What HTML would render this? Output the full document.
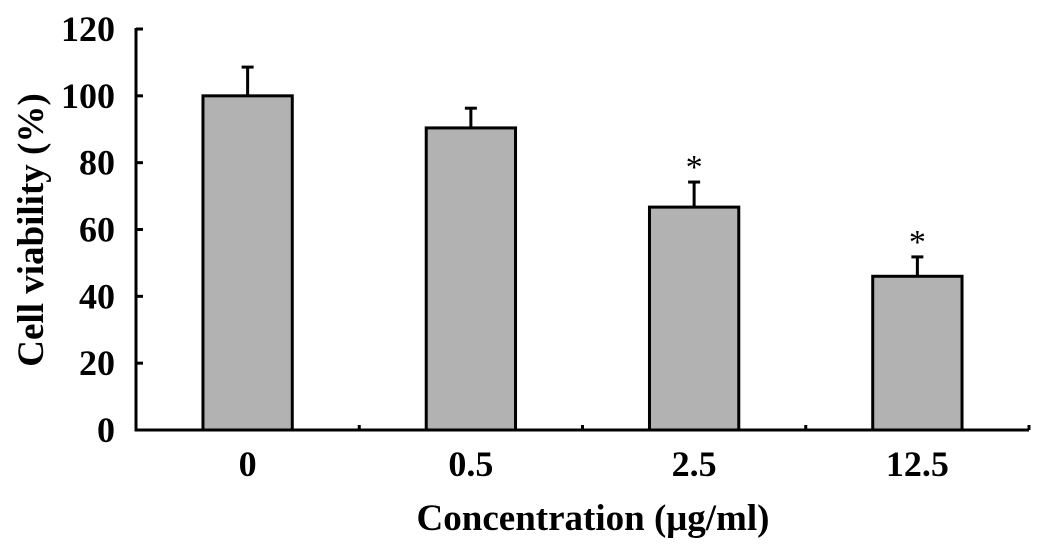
<!DOCTYPE html>
<html><head><meta charset="utf-8"><style>
html,body{margin:0;padding:0;background:#fff;width:1063px;height:559px;overflow:hidden}
text{font-family:"Liberation Serif",serif}
</style></head><body>
<svg id="chart" width="1063" height="559" viewBox="0 0 1063 559"></svg>
<script>
const categories = ["0","0.5","2.5","12.5"];
const values = [100, 90.4, 66.7, 46];
const errors = [8.6, 5.9, 7.5, 5.8];
const significant = [false, false, true, true];
const yTicks = [0,20,40,60,80,100,120];

const NS="http://www.w3.org/2000/svg";
const svg=document.getElementById('chart');
const x0=136, x1=1029, y0=430, yTop=29;
const band=(x1-x0)/categories.length;
const bw=band*0.4;
function y(v){return y0-(v/120)*(y0-yTop);}
function xc(i){return x0+band*(i+0.5);}
function mk(tag,attrs,name){const e=document.createElementNS(NS,tag);for(const k in attrs)e.setAttribute(k,attrs[k]);


svg.appendChild(e);return e;}

categories.forEach((c,i)=>{
  const cx=xc(i);
  mk('rect',{x:cx-bw/2,y:y(values[i]),width:bw,height:y0-y(values[i]),fill:'#b2b2b2',stroke:'#000','stroke-width':3},'bar-'+c);
  const et=y(values[i]+errors[i]);
  mk('line',{x1:cx,x2:cx,y1:y(values[i]),y2:et,stroke:'#000','stroke-width':3},'error-bar-'+c);
  mk('line',{x1:cx-6,x2:cx+6,y1:et,y2:et,stroke:'#000','stroke-width':3},'error-cap-'+c);
  if(significant[i]){const t=mk('text',{x:cx,y:et-4,'text-anchor':'middle','font-size':34},'significance-star-'+c);t.textContent='*';}
  const l=mk('text',{x:cx,y:476,'text-anchor':'middle','font-size':36,'font-weight':'bold'},'x-tick-label-'+c);l.textContent=c;
});
mk('line',{x1:x0,x2:x0,y1:yTop-1,y2:y0+1.5,stroke:'#000','stroke-width':3},'y-axis');
mk('line',{x1:x0-1.5,x2:x1,y1:y0,y2:y0,stroke:'#000','stroke-width':3},'x-axis');
for(let k=1;k<=categories.length;k++){mk('line',{x1:x0+band*k,x2:x0+band*k,y1:y0,y2:y0-5,stroke:'#000','stroke-width':3},'x-tick');}
yTicks.forEach(v=>{
  mk('line',{x1:x0,x2:x0+7,y1:y(v),y2:y(v),stroke:'#000','stroke-width':3},'y-tick-'+v);
  const t=mk('text',{x:x0-21,y:y(v)+12,'text-anchor':'end','font-size':36,'font-weight':'bold'},'y-tick-label-'+v);t.textContent=v;
});
const xt=mk('text',{x:593,y:530,'text-anchor':'middle','font-size':37,'font-weight':'bold'},'x-axis-title');xt.textContent='Concentration (μg/ml)';
const yt=mk('text',{x:0,y:0,'text-anchor':'middle','font-size':37,'font-weight':'bold',transform:'translate(43,230) rotate(-90)'},'y-axis-title');yt.textContent='Cell viability (%)';
</script>
</body></html>
